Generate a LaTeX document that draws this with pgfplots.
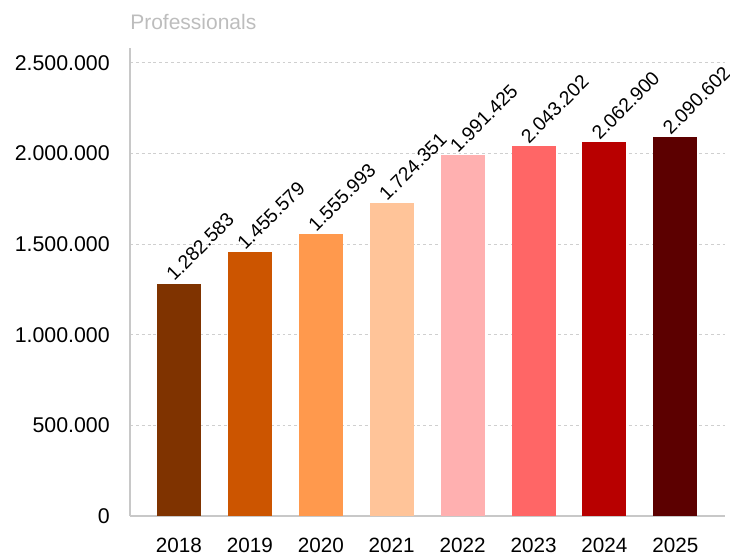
\documentclass[border=0pt]{standalone}
\usepackage{pgfplots}
\pgfplotsset{compat=1.18}
\usepackage{fontspec}
\setmainfont{Liberation Sans}

\definecolor{c18}{HTML}{7F3300}
\definecolor{c19}{HTML}{CC5500}
\definecolor{c20}{HTML}{FF994D}
\definecolor{c21}{HTML}{FFC499}
\definecolor{c22}{HTML}{FFB0B0}
\definecolor{c23}{HTML}{FF6666}
\definecolor{c24}{HTML}{B80000}
\definecolor{c25}{HTML}{5C0000}
\definecolor{axisgray}{HTML}{C8C8C8}
\definecolor{gridgray}{HTML}{CFCFCF}
\definecolor{titlegray}{HTML}{BDBDBD}

\begin{document}
\fontsize{15.75}{18}\selectfont
\begin{tikzpicture}
\useasboundingbox (0,0) rectangle (547.5pt,416.25pt);
\begin{axis}[
    at={(97.5pt,29.25pt)}, anchor=south west,
    scale only axis,
    width=446.25pt, height=351pt,
    xmin=-0.69, xmax=7.7,
    ymin=0, ymax=2582000,
    ybar, bar width=33pt, bar shift=0pt,
    axis x line*=bottom, axis y line*=left,
    axis line style={draw=axisgray, line width=1.1pt, -},
    major tick length=0pt,
    xtick={0,1,2,3,4,5,6,7},
    xticklabels={2018,2019,2020,2021,2022,2023,2024,2025},
    ytick={0,500000,1000000,1500000,2000000,2500000},
    scaled y ticks=false,
    ymajorgrids,
    major grid style={draw=gridgray, line width=0.8pt, dash pattern=on 2.2pt off 2.2pt},
    /pgf/number format/.cd, fixed, 1000 sep={.}, assume math mode=true, /pgfplots/.cd,
    yticklabel style={inner sep=0pt, xshift=-15pt, font=\fontsize{16}{18}\selectfont},
    xticklabel style={inner sep=0pt, yshift=-16pt, font=\fontsize{15.5}{18}\selectfont},
    title={Professionals},
    title style={at={(0,1)}, anchor=base west, inner sep=0pt, yshift=7.5pt,
        text=titlegray, font=\fontsize{15.75}{18}\selectfont},
    clip=false,
    point meta=explicit symbolic,
    nodes near coords,
    nodes near coords style={xshift=-3.5pt, yshift=1pt, rotate=45, anchor=base west,
        inner sep=0pt, font=\fontsize{14.5}{16}\selectfont, text=black},
]
\addplot[fill=c18, draw=none] coordinates {(0,1282583) [1.282.583]};
\addplot[fill=c19, draw=none] coordinates {(1,1455579) [1.455.579]};
\addplot[fill=c20, draw=none] coordinates {(2,1555993) [1.555.993]};
\addplot[fill=c21, draw=none] coordinates {(3,1724351) [1.724.351]};
\addplot[fill=c22, draw=none] coordinates {(4,1991425) [1.991.425]};
\addplot[fill=c23, draw=none] coordinates {(5,2043202) [2.043.202]};
\addplot[fill=c24, draw=none] coordinates {(6,2062900) [2.062.900]};
\addplot[fill=c25, draw=none] coordinates {(7,2090602) [2.090.602]};
\end{axis}
\end{tikzpicture}
\end{document}
